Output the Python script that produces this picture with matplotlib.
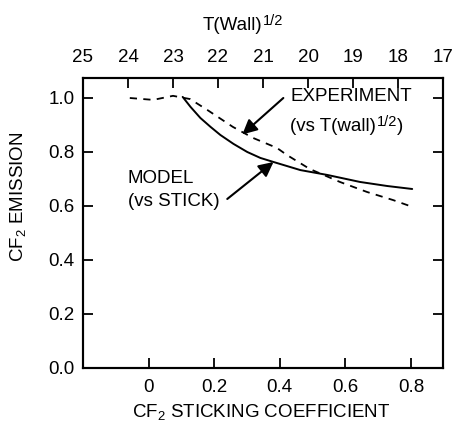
import matplotlib
matplotlib.use("Agg")
import matplotlib.pyplot as plt

plt.rcParams['font.family'] = ['Liberation Sans', 'DejaVu Sans']
plt.rcParams['mathtext.fontset'] = 'custom'
plt.rcParams['mathtext.rm'] = 'Liberation Sans'
plt.rcParams['mathtext.it'] = 'Liberation Sans:italic'
plt.rcParams['mathtext.bf'] = 'Liberation Sans:bold'

# Model: CF2 emission vs sticking coefficient (bottom axis)
stick = [0.104, 0.128, 0.158, 0.189, 0.219, 0.259, 0.301, 0.341, 0.381,
         0.463, 0.545, 0.645, 0.728, 0.804]
model_emission = [1.004, 0.967, 0.926, 0.893, 0.863, 0.830, 0.800, 0.778, 0.763,
                  0.733, 0.715, 0.689, 0.674, 0.663]

# Experiment: CF2 emission vs T(wall)^1/2 (top axis)
t_wall_sqrt = [23.96, 23.44, 23.0, 22.62, 22.24, 21.67, 21.22, 20.69, 20.47,
               19.96, 19.29, 18.69, 18.11, 17.67]
exp_emission = [1.0, 0.993, 1.008, 0.996, 0.956, 0.893, 0.852, 0.815, 0.789,
                0.737, 0.689, 0.652, 0.622, 0.596]

bottom_ticks = [0, 0.2, 0.4, 0.6, 0.8]
bottom_labels = ['0', '0.2', '0.4', '0.6', '0.8']
top_ticks = [25, 24, 23, 22, 21, 20, 19, 18, 17]
y_ticks = [0.0, 0.2, 0.4, 0.6, 0.8, 1.0]

fs = 13.5
fs_sup = 10.5

fig = plt.figure(figsize=(4.54, 4.21), dpi=100)
ax = fig.add_axes([0.1828, 0.1259, 0.7930, 0.6888])
ax.set_xlim(-0.2, 0.898)
ax.set_ylim(0.0, 1.074)

for s in ax.spines.values():
    s.set_linewidth(1.5)

ax.plot(stick, model_emission, color='black', lw=1.4, solid_capstyle='round')

ax.set_xticks(bottom_ticks)
ax.set_xticklabels(bottom_labels)
ax.set_yticks(y_ticks)
ax.set_yticklabels([f'{v:.1f}' for v in y_ticks])
ax.tick_params(direction='in', length=7, width=1.3, labelsize=fs,
               right=True, pad=6)
ax.tick_params(axis='x', pad=8)

ax.set_xlabel(r'CF$_2$ STICKING COEFFICIENT', fontsize=fs)
ax.xaxis.set_label_coords(0.494, -0.152)
ax.xaxis.label.set_va('center')
ax.set_ylabel(r'CF$_2$ EMISSION', fontsize=fs)
ax.yaxis.set_label_coords(-0.181, 0.59)
ax.yaxis.label.set_va('center')

top = ax.twiny()
top.set_xlim(25, 17)
top.plot(t_wall_sqrt, exp_emission, color='black', lw=1.3, dashes=(4, 3.5))
top.set_xticks(top_ticks)
top.set_xticklabels([str(t) for t in top_ticks])
top.tick_params(direction='in', length=7, width=1.3, labelsize=fs, pad=9)
for s in top.spines.values():
    s.set_linewidth(1.5)


def with_superscript(base, sup, tail='', dy=2.5):
    """Attach a superscript (and optional closing text) after a text artist."""
    s = ax.annotate(sup, xy=(1, 1), xycoords=base, xytext=(0.5, dy),
                    textcoords='offset points', ha='left', va='top',
                    fontsize=fs_sup)
    if tail:
        ax.annotate(tail, xy=(1, 0), xycoords=(s, base), ha='left',
                    va='bottom', fontsize=fs)
    return s


# Top axis title
title = fig.text(203 / 454, 1 - 30 / 421, 'T(Wall)', fontsize=fs,
                 ha='left', va='baseline')
with_superscript(title, '1/2')

arrow = dict(arrowstyle='-|>', color='black', lw=1.5, mutation_scale=22,
             shrinkA=0, shrinkB=0)

ax.annotate('', xy=(0.286, 0.865), xytext=(0.411, 1.0), arrowprops=arrow)
ax.text(0.432, 1.004, 'EXPERIMENT', fontsize=fs, va='center', ha='left')
exp2 = ax.text(0.432, 0.893, '(vs T(wall)', fontsize=fs, va='center', ha='left')
with_superscript(exp2, '1/2', ')')

ax.annotate('', xy=(0.381, 0.763), xytext=(0.240, 0.626), arrowprops=arrow)
ax.text(-0.064, 0.700, 'MODEL', fontsize=fs, va='center', ha='left')
ax.text(-0.064, 0.615, '(vs STICK)', fontsize=fs, va='center', ha='left')

fig.savefig('out.png', dpi=100)
